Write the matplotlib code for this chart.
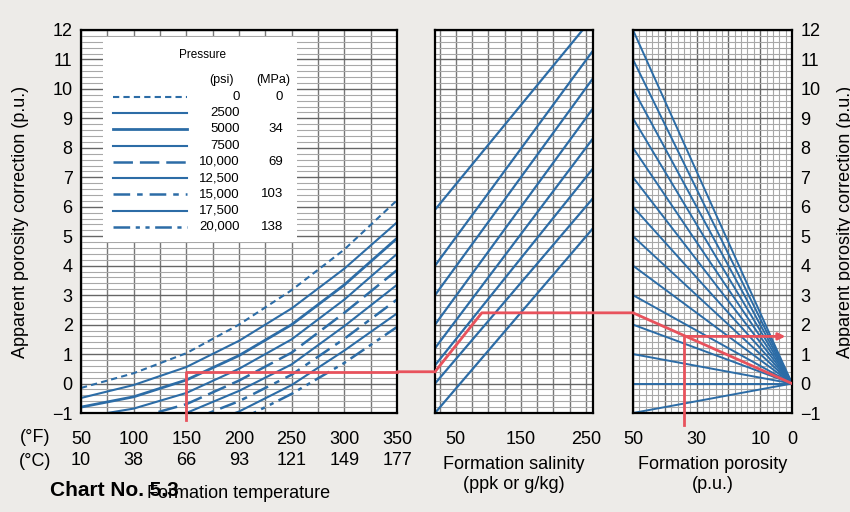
import numpy as np
import matplotlib.pyplot as plt
from matplotlib.patches import Rectangle, ConnectionPatch, FancyArrowPatch
from matplotlib.lines import Line2D

plt.rcParams['font.family'] = ['Liberation Sans', 'DejaVu Sans']
plt.rcParams['lines.scale_dashes'] = False

NARROW = ['Liberation Sans Narrow', 'Liberation Sans', 'DejaVu Sans']
BLUE = '#2c6ca6'
RED = '#e8525c'
BG = '#edebe8'

# --- left panel: formation temperature vs correction, one curve per pressure
temp_f = [50, 100, 150, 200, 250, 300, 350]
temp_c = ['10', '38', '66', '93', '121', '149', '177']
curves = [
    [-0.15, 0.35, 1.03, 2.00, 3.17, 4.55, 6.22],
    [-0.49, -0.05, 0.56, 1.45, 2.55, 3.90, 5.47],
    [-0.80, -0.45, 0.12, 0.95, 2.00, 3.35, 4.93],
    [-1.15, -0.85, -0.32, 0.50, 1.50, 2.85, 4.40],
    [-1.50, -1.20, -0.70, 0.10, 1.05, 2.40, 3.85],
    [-1.80, -1.50, -1.00, -0.25, 0.65, 1.95, 3.35],
    [-2.10, -1.80, -1.30, -0.60, 0.30, 1.52, 2.85],
    [-2.40, -2.10, -1.60, -0.95, -0.05, 1.12, 2.38],
    [-2.70, -2.40, -1.90, -1.25, -0.35, 0.70, 1.92],
]

# legend entries (one per curve, same order)
psi = ['0', '2500', '5000', '7500', '10,000', '12,500', '15,000', '17,500', '20,000']
mpa = ['0', '', '34', '', '69', '', '103', '', '138']
styles = [(0, (4.5, 3)), '-', '-', '-', (0, (14, 5)), '-',
          (0, (12, 5, 4, 5)), '-', (0, (12, 4, 3, 4, 3, 4))]
widths = [1.5, 1.5, 2.0, 1.5, 1.8, 1.5, 1.8, 1.5, 1.8]

# --- middle panel: salinity lines (value at left edge, value at right edge)
sal_left_x = 18
sal_right_x = 261
sal_left = [-1.0, 0.0, 0.62, 1.2, 2.0, 3.0, 4.0]
sal_right = [5.27, 6.29, 7.3, 8.32, 9.34, 10.36, 11.3]
sal_top_line = [(18, 5.9), (245, 12.0)]

# --- right panel: porosity fan lines, value at 50 p.u., all meeting at (0, 0)
fan_at_50 = [12, 11, 10, 9, 8, 7, 6, 5, 4, 3, 2, 1, 0, -1]

# --- worked example (red path)
ex_temp = 150
ex_corr1 = 0.4
ex_sal = 90
ex_corr2 = 2.4
ex_por = 34
ex_corr3 = 1.6

W, H = 850, 512
fig = plt.figure(figsize=(W / 100, H / 100), dpi=100)
fig.patch.set_facecolor(BG)


def box(x0, x1):
    return [x0 / W, 1 - 413 / H, (x1 - x0) / W, (413 - 30) / H]


ax1 = fig.add_axes(box(81, 397))
ax2 = fig.add_axes(box(435, 593))
ax3 = fig.add_axes(box(633, 792))

for ax in (ax1, ax2, ax3):
    ax.set_ylim(-1, 12)
    ax.set_facecolor('white')
    ax.set_axisbelow(True)
    ax.set_yticks(range(-1, 13))
    ax.set_yticks(np.arange(-1, 12.01, 0.2), minor=True)
    ax.grid(axis='y', which='major', color='#666666', lw=1.0)
    ax.grid(axis='y', which='minor', color='#a8a8a8', lw=0.8)
    ax.tick_params(which='both', length=0)
    ax.tick_params(axis='x', pad=13, labelsize=13)
    ax.tick_params(axis='y', labelsize=13, pad=6)
    for sp in ax.spines.values():
        sp.set_linewidth(1.6)
        sp.set_color('black')
    ax.set_yticklabels(['\u22121' if v == -1 else str(v) for v in range(-1, 13)])

# left panel
ax1.set_xlim(50, 350)
ax1.set_xticks(temp_f)
ax1.set_xticks(range(75, 350, 50), minor=True)
ax1.grid(axis='x', which='both', color='#777777', lw=1.0)
for lab in ax1.get_xticklabels():
    lab.set_family(NARROW)
for x, c in zip(temp_f, temp_c):
    ax1.text(x, -0.125, c, transform=ax1.get_xaxis_transform(), ha='center',
             va='center', fontsize=13, family=NARROW)
for vals, ls, lw in zip(curves, styles, widths):
    ax1.plot(temp_f, vals, color=BLUE, lw=lw, ls=ls, zorder=2)
ax1.set_ylabel('Apparent porosity correction (p.u.)', fontsize=13)
ax1.yaxis.set_label_coords(-0.165, 0.5)

# legend box
ax1.add_patch(Rectangle((0.07, 0.447), 0.614, 0.535, transform=ax1.transAxes,
                        facecolor='white', edgecolor='none', zorder=3))
ax1.text(0.383, 0.935, 'Pressure', transform=ax1.transAxes, ha='center',
         va='center', fontsize=8.5, zorder=4)
ax1.text(0.446, 0.869, '(psi)', transform=ax1.transAxes, ha='center',
         va='center', fontsize=9, zorder=4)
ax1.text(0.608, 0.869, '(MPa)', transform=ax1.transAxes, ha='center',
         va='center', fontsize=9, zorder=4)
row_y = np.linspace(0.825, 0.486, len(psi))
for yy, p, m, ls, lw in zip(row_y, psi, mpa, styles, widths):
    ax1.add_line(Line2D([0.101, 0.335], [yy, yy], transform=ax1.transAxes,
                        color=BLUE, ls=ls, lw=lw, zorder=4))
    ax1.text(0.503, yy, p, transform=ax1.transAxes, ha='right', va='center',
             fontsize=9.5, zorder=4)
    ax1.text(0.639, yy, m, transform=ax1.transAxes, ha='right', va='center',
             fontsize=9.5, zorder=4)

# middle panel
ax2.set_xlim(sal_left_x, sal_right_x)
ax2.set_xticks([50, 150, 250])
ax2.set_xticks(range(25, 251, 25), minor=True)
ax2.grid(axis='x', which='both', color='#777777', lw=1.0)
ax2.set_yticklabels([])
for lab in ax2.get_xticklabels():
    lab.set_family(NARROW)
for a, b in zip(sal_left, sal_right):
    ax2.plot([sal_left_x, sal_right_x], [a, b], color=BLUE, lw=1.6, zorder=2)
ax2.plot(*zip(*sal_top_line), color=BLUE, lw=1.6, zorder=2)
ax2.set_xlabel('Formation salinity\n(ppk or g/kg)', fontsize=13, family=NARROW,
               labelpad=6)

# right panel
ax3.set_xlim(50, 0)
ax3.set_xticks([0, 10, 20, 30, 40, 50])
ax3.set_xticklabels(['0', '10', '', '30', '', '50'])
ax3.set_xticks(np.arange(0, 50, 2), minor=True)
ax3.grid(axis='x', which='major', color='#666666', lw=1.0)
ax3.grid(axis='x', which='minor', color='#a8a8a8', lw=0.8)
for lab in ax3.get_xticklabels():
    lab.set_family(NARROW)
ax3.yaxis.tick_right()
ax3.yaxis.set_label_position('right')
ax3.set_ylabel('Apparent porosity correction (p.u.)', fontsize=13)
ax3.yaxis.set_label_coords(1.285, 0.5)
for v in fan_at_50:
    ax3.plot([50, 0], [v, 0], color=BLUE, lw=1.4, zorder=2)
ax3.set_xlabel('Formation porosity\n(p.u.)', fontsize=13, family=NARROW,
               labelpad=6)

# red example path
rk = dict(color=RED, lw=2.0, zorder=5)
ax1.plot([ex_temp, ex_temp, 350], [-1.25, ex_corr1, ex_corr1], clip_on=False, **rk)
fig.add_artist(ConnectionPatch((350, ex_corr1), (sal_left_x, ex_corr1), 'data', 'data',
                               axesA=ax1, axesB=ax2, **rk))
ax2.plot([sal_left_x, ex_sal, sal_right_x], [ex_corr1, ex_corr2, ex_corr2], **rk)
fig.add_artist(ConnectionPatch((sal_right_x, ex_corr2), (50, ex_corr2), 'data', 'data',
                               axesA=ax2, axesB=ax3, **rk))
ax3.plot([50, 0], [ex_corr2, 0], **rk)
ax3.plot([ex_por, ex_por], [ex_corr3, -1.4], clip_on=False, **rk)
ax3.add_patch(FancyArrowPatch((ex_por, ex_corr3), (1.2, ex_corr3), arrowstyle='-|>',
                              mutation_scale=10, color=RED, lw=2.0, zorder=5))

# bottom captions
fig.text(35 / W, 1 - 437 / H, '(\u00b0F)', ha='center', va='center', fontsize=13,
         family=NARROW)
fig.text(35 / W, 1 - 461 / H, '(\u00b0C)', ha='center', va='center', fontsize=13,
         family=NARROW)
fig.text(147 / W, 1 - 494 / H, 'Formation temperature', ha='left', va='center',
         fontsize=13, family=NARROW)
fig.text(50 / W, 1 - 490 / H, 'Chart No. 5.3', ha='left', va='center',
         fontsize=15, fontweight='bold', family=NARROW)

fig.savefig('out.png', dpi=100, facecolor=BG)
